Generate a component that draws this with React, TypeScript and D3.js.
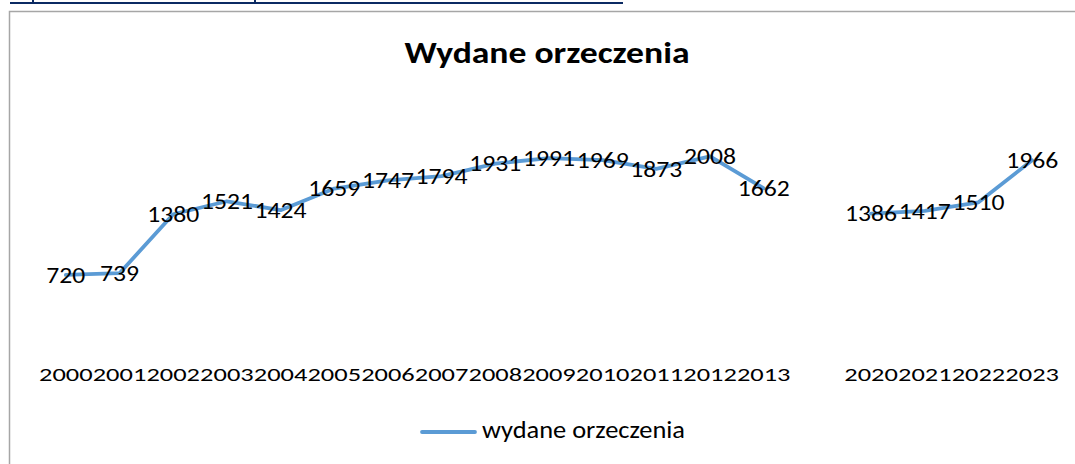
import React from 'react';
import * as d3 from 'd3';

const title = 'Wydane orzeczenia';
const seriesName = 'wydane orzeczenia';
const categories = ['2000','2001','2002','2003','2004','2005','2006','2007','2008','2009','2010','2011','2012','2013','','2020','2021','2022','2023'];
const values: (number | null)[] = [720,739,1380,1521,1424,1659,1747,1794,1931,1991,1969,1873,2008,1662,null,1386,1417,1510,1966];
const yDomain = [0, 2500];

const W = 1075, H = 464;
const FONT = 'Carlito, Calibri, Lato, sans-serif';
const LINE_COLOR = '#5B9BD5';

export default function App() {
  const x = d3.scaleBand<string>()
    .domain(categories.map((_, i) => String(i)))
    .range([39, 1059])
    .padding(0);
  const y = d3.scaleLinear().domain(yDomain).range([341.2, 111.2]);
  const cx = (i: number) => (x(String(i)) as number) + x.bandwidth() / 2;

  const line = d3.line<number | null>()
    .defined(d => d != null)
    .x((_, i) => cx(i))
    .y(d => y(d as number));

  return (
    <svg width={W} height={H} style={{ position: 'absolute', left: 0, top: 0, background: '#fff' }}>
      <rect x={0} y={0} width={W} height={H} fill="#fff" />
      {/* hyperlink underline remnant */}
      <line x1={10} x2={623} y1={3} y2={3} stroke="#0B2A63" strokeWidth={2} />
      <rect x={32} y={0} width={2} height={2} fill="#0B2A63" />
      <rect x={254} y={0} width={2} height={2} fill="#0B2A63" />
      {/* chart border */}
      <path d={`M9.5,${H + 2} V11.5 H${W + 2}`} fill="none" stroke="#A6A6A6" strokeWidth={1.5} />

      <text x={547} y={62.5} textAnchor="middle" fontFamily={FONT} fontWeight="bold" fontSize={29.5}
        textLength={285} lengthAdjust="spacingAndGlyphs" fill="#000">{title}</text>

      <path d={line(values) || ''} fill="none" stroke={LINE_COLOR} strokeWidth={3.8}
        strokeLinejoin="round" strokeLinecap="round" />

      {values.map((v, i) => v == null ? null : (
        <text key={'l' + i} x={cx(i)} y={y(v) + 7.8} textAnchor="middle" fontFamily={FONT}
          fontSize={22} textLength={String(v).length * 13} lengthAdjust="spacingAndGlyphs" fill="#000">{v}</text>
      ))}

      {categories.map((c, i) => c === '' ? null : (
        <text key={'c' + i} x={cx(i)} y={380.5} textAnchor="middle" fontFamily={FONT}
          fontSize={19} textLength={c.length * 13.4} lengthAdjust="spacingAndGlyphs" fill="#000">{c}</text>
      ))}

      <line x1={422} x2={475} y1={432} y2={432} stroke={LINE_COLOR} strokeWidth={3.8} strokeLinecap="round" />
      <text x={482} y={438} fontFamily={FONT} fontSize={24} textLength={203}
        lengthAdjust="spacingAndGlyphs" fill="#000">{seriesName}</text>
    </svg>
  );
}
